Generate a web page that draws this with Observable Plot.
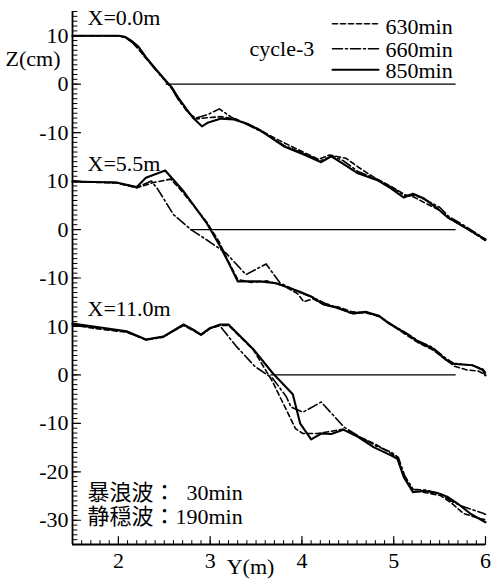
<!DOCTYPE html>
<html>
<head>
<meta charset="utf-8">
<script src="https://cdn.jsdelivr.net/npm/d3@7"></script>
<script src="https://cdn.jsdelivr.net/npm/@observablehq/plot@0.6"></script>
<style>
  html, body { margin: 0; padding: 0; background: #fff; }
</style>
</head>
<body>
<div id="chart"></div>
<script>
// Cross-shore beach profiles, cycle-3: bed level Z (cm) against offshore distance Y (m)
// at three alongshore stations, each drawn on a shared axis with its own vertical shift.

const stations = ["X=0.0m", "X=5.5m", "X=11.0m"];
const stationShift = [60, 30, 0];          // cm added to each station on the shared axis
const series = ["630min", "660min", "850min"];
const cycleLabel = "cycle-3";
const waveNote = "暴浪波：\u00a0\u00a030min\n静穏波：190min";

// Still-water line for each station: from the shoreline out to the end of the tank section
const waterFrom = [2.52, 2.79, 3.66];
const waterTo = [5.68, 5.68, 5.68];

// Axis ticks
const xTickValues = [2, 3, 4, 5, 6];
const yTickValues = [70, 60, 50, 40, 30, 20, 10, 0, -10, -20, -30];
const yTickLabels = ["10", "0", "-10", "10", "0", "-10", "10", "0", "-10", "-20", "-30"];

// Profiles as [Y (m), Z (cm)]
const x0_630 = [[1.5,10],[2.0,10],[2.08,9.6],[2.15,8.6],[2.22,7.2],[2.30,5.3],[2.40,3.2],[2.50,1.0],[2.58,-0.8],[2.66,-3.2],[2.74,-5.4],[2.84,-7.2],[2.98,-6.9],[3.12,-6.7],[3.28,-7.2],[3.51,-9.1],[3.72,-11.3],[3.99,-13.8],[4.18,-15.5],[4.30,-14.6],[4.48,-15.3],[4.62,-17.2],[4.80,-19.4],[4.99,-21.3],[5.13,-22.9],[5.22,-23.3],[5.35,-24.6],[5.49,-25.9],[5.60,-27.7],[5.78,-29.6],[6.0,-32.3]];
const x0_660 = [[1.5,10],[2.0,10],[2.07,9.7],[2.14,8.8],[2.22,7.4],[2.30,5.5],[2.39,3.3],[2.50,0.9],[2.58,-0.9],[2.66,-3.4],[2.77,-6.0],[2.84,-7.0],[2.97,-6.3],[3.10,-5.1],[3.23,-6.8],[3.43,-8.6],[3.57,-9.9],[3.80,-12.6],[4.02,-14.3],[4.20,-15.8],[4.33,-14.8],[4.45,-15.8],[4.61,-18.0],[4.83,-19.7],[4.98,-21.3],[5.12,-23.0],[5.22,-22.9],[5.34,-23.8],[5.50,-25.4],[5.60,-27.3],[5.77,-29.2],[6.0,-32.0]];
const x0_850 = [[1.5,10],[2.0,10],[2.07,9.8],[2.14,9.0],[2.22,7.7],[2.30,5.6],[2.39,3.5],[2.50,1.1],[2.58,-0.6],[2.66,-3.0],[2.74,-5.1],[2.82,-7.1],[2.91,-8.7],[2.98,-7.9],[3.12,-7.1],[3.26,-7.3],[3.41,-8.2],[3.55,-9.6],[3.80,-12.8],[4.02,-14.5],[4.21,-16.1],[4.32,-14.9],[4.42,-16.1],[4.61,-18.4],[4.83,-19.9],[4.97,-21.5],[5.11,-23.4],[5.21,-22.6],[5.33,-23.6],[5.48,-25.7],[5.59,-27.5],[5.76,-29.4],[6.0,-32.1]];

const x55_630 = [[1.5,9.9],[1.98,9.6],[2.20,8.6],[2.38,9.7],[2.57,10.4],[2.66,8.6],[2.80,5.4],[2.96,1.6],[3.10,-2.6],[3.20,-6.6],[3.30,-10.3],[3.45,-10.9],[3.62,-10.6],[3.80,-11.6],[3.95,-13.2],[4.02,-14.9],[4.12,-14.3],[4.25,-15.6],[4.40,-16.0],[4.55,-17.0],[4.70,-17.2],[4.85,-18.0],[4.97,-19.6],[5.14,-21.8],[5.27,-23.4],[5.43,-24.9],[5.57,-26.8],[5.66,-28.2],[5.80,-29.0],[5.92,-29.2],[6.0,-30.0]];
const x55_660 = [[1.5,9.9],[1.98,9.7],[2.20,8.7],[2.36,10.0],[2.43,8.3],[2.60,3.1],[2.79,0],[2.96,-2.1],[3.17,-4.8],[3.39,-9.3],[3.61,-7.1],[3.76,-11.0],[3.90,-12.3],[4.00,-13.2],[4.12,-14.0],[4.25,-15.2],[4.40,-16.2],[4.55,-17.4],[4.70,-17.0],[4.85,-18.0],[4.97,-19.5],[5.13,-21.3],[5.27,-23.0],[5.42,-24.3],[5.57,-26.6],[5.65,-27.6],[5.85,-28.0],[5.97,-28.8],[6.0,-29.5]];
const x55_850 = [[1.5,9.9],[1.98,9.7],[2.20,8.8],[2.30,10.7],[2.51,12.2],[2.71,7.9],[2.96,1.4],[3.11,-3.5],[3.22,-7.6],[3.30,-10.7],[3.54,-10.7],[3.72,-11.1],[3.87,-12.1],[3.97,-12.8],[4.10,-13.8],[4.23,-15.4],[4.37,-16.1],[4.55,-17.3],[4.70,-17.0],[4.84,-17.8],[4.95,-19.4],[5.13,-21.4],[5.27,-23.2],[5.42,-24.5],[5.57,-26.9],[5.64,-27.7],[5.86,-28.0],[5.97,-29.0],[6.0,-30.1]];

const x11_630 = [[1.5,10.3],[1.73,9.6],[2.09,8.8],[2.30,7.3],[2.49,7.9],[2.71,10.2],[2.82,9.1],[2.90,8.2],[3.00,9.6],[3.11,10.2],[3.20,10.2],[3.47,5.2],[3.68,-1.4],[3.93,-11.1],[4.01,-12.1],[4.17,-12.1],[4.45,-11.2],[4.64,-12.9],[4.80,-14.3],[4.97,-16.2],[5.04,-17.2],[5.12,-21.4],[5.21,-23.9],[5.35,-24.3],[5.51,-24.9],[5.62,-26.3],[5.76,-28.6],[5.91,-29.5],[6.0,-29.9]];
const x11_660 = [[1.5,10.3],[1.73,9.8],[2.09,8.9],[2.30,7.2],[2.49,7.8],[2.71,10.3],[2.82,9.2],[2.90,8.2],[3.00,9.6],[3.11,10.3],[3.12,9.8],[3.28,6.0],[3.49,1.7],[3.68,-0.7],[3.83,-4.5],[3.88,-6.6],[4.01,-7.7],[4.21,-5.6],[4.46,-10.8],[4.64,-12.9],[4.80,-14.6],[4.97,-15.9],[5.05,-17.0],[5.12,-20.8],[5.21,-23.6],[5.36,-23.8],[5.52,-24.6],[5.62,-26.0],[5.73,-27.0],[5.98,-28.6],[6.0,-28.8]];
const x11_850 = [[1.5,10.6],[1.73,10.0],[2.09,9.0],[2.30,7.3],[2.49,7.9],[2.71,10.4],[2.82,9.3],[2.90,8.3],[3.00,9.7],[3.11,10.4],[3.20,10.4],[3.47,5.3],[3.68,0.4],[3.90,-4.0],[3.98,-10.0],[4.10,-13.3],[4.21,-12.1],[4.32,-12.2],[4.45,-11.3],[4.61,-12.8],[4.78,-14.9],[4.97,-16.6],[5.04,-17.3],[5.11,-21.1],[5.21,-24.2],[5.33,-23.9],[5.48,-24.4],[5.59,-25.2],[5.70,-26.6],[5.84,-28.7],[6.0,-30.4]];

const profiles = [
  [x0_630, x0_660, x0_850],
  [x55_630, x55_660, x55_850],
  [x11_630, x11_660, x11_850]
];

// Line styles per series: dashed, dash-dot, solid
const seriesDash = ["5,3", "10,3,2,3", null];
const seriesWidth = [1.6, 1.6, 2.1];

const xDomain = [1.5, 6];
const yDomain = [-35, 75];

const serif = "'Liberation Serif', 'Times New Roman', serif";
const tickShape = { draw(context, l) { context.moveTo(0, 0); context.lineTo(0, -l); } };

// Flatten into tidy rows: one per vertex
const rows = [];
profiles.forEach((set, s) => set.forEach((pts, k) => pts.forEach(([Y, Z]) =>
  rows.push({station: stations[s], series: series[k], Y, Z, v: Z + stationShift[s]}))));

const xMinor = d3.range(15, 61).map(d => d / 10);
const yMinor = d3.range(yDomain[0], yDomain[1] + 1);
const yMajor = d3.range(-30, 71, 10);

const marks = [];

// Axis lines
marks.push(Plot.ruleX([xDomain[0]], {stroke: "black", strokeWidth: 1.8}));
marks.push(Plot.ruleY([yDomain[0]], {stroke: "black", strokeWidth: 1.8}));

// Inward tick marks
marks.push(Plot.vector(yMinor, {y: d => d, frameAnchor: "left", length: 4.5, rotate: 90, anchor: "start", shape: tickShape, stroke: "black", fill: "none", strokeWidth: 1}));
marks.push(Plot.vector(yMajor, {y: d => d, frameAnchor: "left", length: 8, rotate: 90, anchor: "start", shape: tickShape, stroke: "black", fill: "none", strokeWidth: 1.2}));
marks.push(Plot.vector(xMinor, {x: d => d, frameAnchor: "bottom", length: 4, rotate: 0, anchor: "start", shape: tickShape, stroke: "black", fill: "none", strokeWidth: 1}));
marks.push(Plot.vector(xTickValues, {x: d => d, frameAnchor: "bottom", length: 8, rotate: 0, anchor: "start", shape: tickShape, stroke: "black", fill: "none", strokeWidth: 1.2}));

// Tick labels
marks.push(Plot.axisY(yTickValues, {tickSize: 0, tickPadding: 4, fontSize: 22, label: null, tickFormat: d => yTickLabels[yTickValues.indexOf(d)]}));
marks.push(Plot.axisX(xTickValues, {tickSize: 0, tickPadding: 8, fontSize: 22, label: null, tickFormat: d => String(d)}));

// Still-water lines
marks.push(Plot.ruleY(stations.map((_, i) => i), {
  y: i => stationShift[i], x1: i => waterFrom[i], x2: i => waterTo[i], stroke: "black", strokeWidth: 1.2
}));

// Profiles
series.forEach((name, k) => {
  marks.push(Plot.line(rows.filter(r => r.series === name), {
    x: "Y", y: "v", z: "station", stroke: "black", strokeWidth: seriesWidth[k],
    strokeDasharray: seriesDash[k], strokeLinejoin: "round", curve: "linear"
  }));
});

// Station labels
marks.push(Plot.text(stations.map((_, i) => i), {
  y: i => stationShift[i] + 13.6, text: i => stations[i], frameAnchor: "left", dx: 15,
  textAnchor: "start", lineAnchor: "middle", fontSize: 22, fontFamily: serif
}));

// Legend
const legendRowY = [12.3, 37.3, 58.3];
const legendTextY = [15.5, 38.5, 59.5];
series.forEach((name, k) => {
  marks.push(Plot.vector([name], {frameAnchor: "top-left", dx: 260, dy: legendRowY[k], length: 46, rotate: 90, anchor: "start",
    shape: tickShape, stroke: "black", fill: "none", strokeWidth: seriesWidth[k], strokeDasharray: seriesDash[k]}));
  marks.push(Plot.text([name], {frameAnchor: "top-left", dx: 313, dy: legendTextY[k], text: d => d,
    textAnchor: "start", lineAnchor: "middle", fontSize: 22, fontFamily: serif}));
});
marks.push(Plot.text([cycleLabel], {frameAnchor: "top-left", dx: 177, dy: 37, text: d => d, textAnchor: "start", lineAnchor: "middle", fontSize: 22, fontFamily: serif}));

// Axis titles
marks.push(Plot.text(["Z(cm)"], {frameAnchor: "top-left", dx: -67, dy: 47, text: d => d, textAnchor: "start", lineAnchor: "middle", fontSize: 22, fontFamily: serif}));
marks.push(Plot.text(["Y(m)"], {frameAnchor: "bottom-left", dx: 178, dy: 22, text: d => d, textAnchor: "middle", lineAnchor: "middle", fontSize: 22, fontFamily: serif}));

// Wave condition note
marks.push(Plot.text([waveNote], {frameAnchor: "bottom-left", dx: 15, dy: -21, text: d => d, textAnchor: "start",
  lineAnchor: "bottom", lineHeight: 1.05, fontSize: 22, fontFamily: "'Liberation Serif', 'Noto Sans CJK JP', serif"}));

const chart = Plot.plot({
  width: 500,
  height: 579,
  marginLeft: 72,
  marginRight: 15,
  marginTop: 11,
  marginBottom: 35,
  x: {domain: xDomain},
  y: {domain: yDomain},
  style: {fontFamily: serif, fontSize: "22px", background: "white", color: "black"},
  marks
});
document.getElementById("chart").appendChild(chart);
</script>
</body>
</html>
